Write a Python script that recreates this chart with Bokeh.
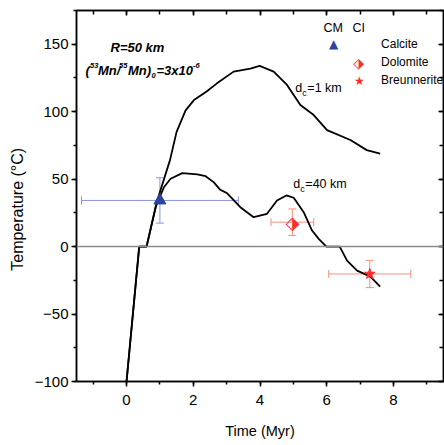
from bokeh.plotting import figure
from bokeh.models import (Range1d, LinearAxis, SingleIntervalTicker, Span, Whisker,
                          ColumnDataSource, Label, TeeHead, CustomJSTickFormatter)
from bokeh.embed import file_html
from bokeh.resources import INLINE
from bokeh.core.properties import value

# ---- data ----
t_1km = [0.0, 0.38, 0.60, 0.92, 1.30, 1.50, 1.77, 2.02, 2.40, 2.71, 3.21, 3.71, 3.99,
         4.41, 4.81, 5.21, 5.61, 6.01, 6.71, 7.20, 7.60]
T_1km = [-100, 0, 0, 34.2, 63.9, 85, 101, 108.6, 115, 121, 129.7, 132, 134,
         129.7, 119.8, 104.9, 97.5, 86.3, 79, 71.5, 69]

t_40km = [0.0, 0.38, 0.60, 0.87, 1.12, 1.32, 1.67, 2.12, 2.37, 2.61, 2.81, 3.01, 3.41,
          3.81, 4.21, 4.51, 4.79, 5.01, 5.31, 5.56, 5.76, 5.99, 6.39, 6.61, 6.91, 7.31, 7.60]
T_40km = [-100, 0, 0, 29.2, 44, 50.3, 54.5, 53.5, 52.2, 47.8, 42.1, 39.6, 29.2,
          21.8, 24.3, 34.2, 37.9, 36.2, 25.5, 11.9, 5.7, 0, 0, -10.4, -17.8, -22.3, -29.7]

calcite_t, calcite_T, calcite_terr, calcite_Terr = [1.0], [34.2], [2.35], [16.8]
dolomite_t, dolomite_T, dolomite_terr, dolomite_Terr = [4.97], [18.1], [0.64], [9.8]
breun_t, breun_T, breun_terr, breun_Terr = [7.29], [-20.3], [1.23], [10.1]

FONT = "Liberation Sans"
BLUE = "#2b44a0"
BLUE_ERR = "#8a93e0"
RED = "#ff2b2b"
RED_ERR = "#f4907e"

p = figure(width=444, height=445, output_backend="svg", toolbar_location=None,
           x_range=Range1d(-1.5, 9.5), y_range=Range1d(-100, 175),
           min_border_left=76, min_border_right=1, min_border_top=10, min_border_bottom=64)
p.xgrid.visible = False
p.ygrid.visible = False
p.outline_line_color = "black"
p.outline_line_width = 1.5
p.background_fill_color = "white"
p.border_fill_color = "white"

p.xaxis.ticker = SingleIntervalTicker(interval=2, num_minor_ticks=2)
p.yaxis.ticker = SingleIntervalTicker(interval=50, num_minor_ticks=2)
for ax in (p.xaxis[0], p.yaxis[0]):
    ax.major_tick_in = 0
    ax.major_tick_out = 5
    ax.minor_tick_in = 0
    ax.minor_tick_out = 3
    ax.axis_line_width = 1.5
    ax.major_tick_line_width = 1.5
    ax.minor_tick_line_width = 1.5
    ax.major_label_text_font = FONT
    ax.major_label_text_font_size = "15px"
    ax.major_label_text_color = "black"
    ax.axis_label_text_font = FONT
    ax.axis_label_text_font_style = "normal"
    ax.axis_label_text_color = "black"
p.xaxis.major_label_standoff = 8
p.yaxis.major_label_standoff = 3
p.xaxis.axis_label = "Time (Myr)"
p.xaxis.axis_label_text_font_size = "14.5px"
p.xaxis.axis_label_standoff = 15
# trailing no-break spaces push the visible title a little below the frame centre, as in the original
p.yaxis.axis_label = "Temperature (°C)" + "\u00a0" * 6
p.yaxis.axis_label_text_font_size = "16px"
p.yaxis.axis_label_standoff = 6

blank = CustomJSTickFormatter(code="return ''")
top = LinearAxis(ticker=SingleIntervalTicker(interval=2, num_minor_ticks=2), formatter=blank,
                 major_tick_in=5, major_tick_out=0, minor_tick_in=4, minor_tick_out=0,
                 major_label_standoff=0,
                 axis_line_width=1.5, major_tick_line_width=1.5, minor_tick_line_width=1.5)
right = LinearAxis(ticker=SingleIntervalTicker(interval=50, num_minor_ticks=2), formatter=blank,
                   major_tick_in=5, major_tick_out=0, minor_tick_in=4, minor_tick_out=0,
                   major_label_standoff=0,
                   axis_line_width=1.5, major_tick_line_width=1.5, minor_tick_line_width=1.5)
p.add_layout(top, "above")
p.add_layout(right, "right")

p.add_layout(Span(location=0, dimension="width", line_color="#8c8c8c", line_width=1.5))

def err_source(x, y, xe, ye):
    return ColumnDataSource(dict(
        x=x, y=y,
        xl=[a - e for a, e in zip(x, xe)], xu=[a + e for a, e in zip(x, xe)],
        yl=[a - e for a, e in zip(y, ye)], yu=[a + e for a, e in zip(y, ye)]))

for (x, y, xe, ye, col) in ((calcite_t, calcite_T, calcite_terr, calcite_Terr, BLUE_ERR),
                            (dolomite_t, dolomite_T, dolomite_terr, dolomite_Terr, RED_ERR),
                            (breun_t, breun_T, breun_terr, breun_Terr, RED_ERR)):
    src = err_source(x, y, xe, ye)
    p.add_layout(Whisker(source=src, base="y", lower="xl", upper="xu", dimension="width",
                         line_color=col, line_width=1,
                         upper_head=TeeHead(size=8, line_color=col, line_width=1),
                         lower_head=TeeHead(size=8, line_color=col, line_width=1)))
    p.add_layout(Whisker(source=src, base="x", lower="yl", upper="yu", dimension="height",
                         line_color=col, line_width=1,
                         upper_head=TeeHead(size=8, line_color=col, line_width=1),
                         lower_head=TeeHead(size=8, line_color=col, line_width=1)))

p.line(t_40km, T_40km, line_color="black", line_width=1.8)
p.line(t_1km, T_1km, line_color="black", line_width=1.8)

p.scatter(calcite_t, calcite_T, marker="triangle", size=12, fill_color=BLUE, line_color=BLUE)
p.text(dolomite_t, dolomite_T, text=["⬗"], text_font=value("DejaVu Sans"),
       text_font_size="18px", text_align="center", text_baseline="middle", text_color=RED)
p.scatter(breun_t, breun_T, marker="star", size=11, fill_color=RED, line_color=RED)

def lab(x, y, text, size="12.5px", style="normal", font=FONT, color="black", xo=0, yo=0,
        align="left"):
    p.add_layout(Label(x=x, y=y, text=text, text_font=font, text_font_size=size,
                       text_font_style=style, text_color=color, text_baseline="middle",
                       text_align=align, x_offset=xo, y_offset=yo))

lab(-0.48, 147.8, "R=50 km", size="13px", style="bold italic")
mx, my = -1.23, 130.8
BI = "bold italic"
lab(mx, my, "(", size="13px", style=BI)
lab(mx, my, "53", size="7.5px", style=BI, xo=4.5, yo=5)
lab(mx, my, "Mn/", size="13px", style=BI, xo=12.5)
lab(mx, my, "55", size="7.5px", style=BI, xo=33.5, yo=5)
lab(mx, my, "Mn)", size="13px", style=BI, xo=42.5)
lab(mx, my, "0", size="7.5px", style=BI, xo=66, yo=-5)
lab(mx, my, "=3x10", size="13px", style=BI, xo=71)
lab(mx, my, "-6", size="7.5px", style=BI, xo=107.5, yo=5)

lab(5.06, 117.4, "d")
lab(5.06, 117.4, "c", size="9px", xo=7, yo=-5)
lab(5.06, 117.4, "=1 km", xo=12)
lab(5.0, 46.1, "d")
lab(5.0, 46.1, "c", size="9px", xo=7, yo=-5)
lab(5.0, 46.1, "=40 km", xo=12)

lab(5.9, 162, "CM")
lab(6.77, 162, "CI")
lab(6.21, 150.3, "▲", size="12px", font="DejaVu Sans", color=BLUE, align="center")
lab(6.96, 136.2, "⬗", size="14px", font="DejaVu Sans", color=RED, align="center")
lab(6.98, 122.8, "★", size="12px", font="DejaVu Sans", color=RED, align="center")
lab(7.63, 150.2, "Calcite", size="12px")
lab(7.63, 136.8, "Dolomite", size="12px")
lab(7.63, 123.5, "Breunnerite", size="12px")

open("out.html", "w").write(file_html(p, INLINE))
